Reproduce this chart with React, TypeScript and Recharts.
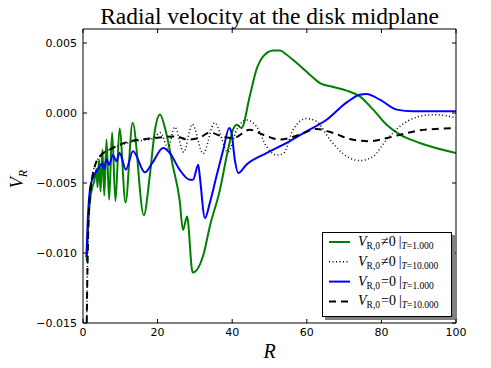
import React from 'react';
import { LineChart, Line, XAxis, YAxis, Legend } from 'recharts';

// ---- data (R, V_R) ----
const greenR = [1.0, 1.5, 2.0, 2.5, 3.0, 3.6, 3.9, 4.3, 4.7, 5.2, 5.7, 6.3, 7.0, 7.8, 8.7, 9.8, 11.4, 13.3, 16.3, 17.9, 19.3, 20.6, 22.2, 24.1, 25.9, 26.8, 27.9, 29.4, 32.2, 34.0, 36.7, 38.9, 40.2, 41.2, 42.5, 44.7, 46.5, 48.3, 51.0, 52.8, 54.6, 57.3, 60.8, 63.5, 67.1, 70.7, 74.2, 77.8, 81.4, 85.0, 90.3, 100];
const greenV = [-0.0106, -0.0075, -0.0060, -0.0053, -0.0049, -0.0040, -0.0053, -0.0033, -0.0056, -0.0026, -0.0059, -0.0019, -0.0062, -0.0014, -0.0063, -0.0011, -0.0064, -0.0007, -0.0073, -0.0045, -0.0012, -0.0001, -0.0013, -0.0038, -0.0062, -0.00835, -0.0074, -0.0114, -0.0102, -0.0081, -0.0055, -0.0026, -0.0012, -0.00084, -0.00107, 0.00119, 0.0031, 0.00404, 0.00447, 0.00447, 0.00416, 0.00357, 0.00274, 0.00214, 0.00186, 0.0016, 0.00119, 0.00024, -0.00084, -0.00155, -0.00214, -0.00286];

const dottedR = [1.0, 1.2, 1.5, 2.0, 2.7, 4.5, 8.0, 12.5, 18.8, 20.8, 22.8, 24.6, 27.0, 29.3, 32.2, 35.3, 38.9, 41.2, 43.8, 46.5, 49.2, 51.9, 53.7, 56.3, 59.9, 62.6, 66.2, 70.7, 74.2, 77.8, 81.4, 85.0, 89.4, 93.9, 97.5, 100];
const dottedV = [-0.0150, -0.0110, -0.0075, -0.0055, -0.0042, -0.0031, -0.0025, -0.0021, -0.0018, -0.0014, -0.0025, -0.0010, -0.0028, -0.0008, -0.0029, -0.0007, -0.0028, -0.0012, -0.0005, -0.00095, -0.0024, -0.0030, -0.0029, -0.0012, -0.0004, -0.0006, -0.0019, -0.0031, -0.0034, -0.0031, -0.0019, -0.00095, -0.0003, -0.00012, -0.0002, -0.00036];

const blueR = [0.9, 1.3, 1.8, 2.4, 3.1, 4.5, 5.2, 5.6, 6.3, 7.0, 8.0, 9.0, 9.8, 11.5, 13.4, 16.6, 18.5, 21.5, 23.3, 25.9, 28.6, 29.5, 30.9, 31.3, 32.7, 34.0, 35.8, 37.6, 39.2, 39.8, 40.7, 41.6, 43.8, 49.2, 54.6, 59.9, 65.3, 70.7, 74.2, 76.0, 79.6, 84.1, 88.5, 100];
const blueV = [-0.0103, -0.0075, -0.0056, -0.0048, -0.0044, -0.0038, -0.0036, -0.0040, -0.0033, -0.0037, -0.0030, -0.00345, -0.00285, -0.00405, -0.00274, -0.00424, -0.0036, -0.0025, -0.00286, -0.00405, -0.00476, -0.00476, -0.00369, -0.0045, -0.0075, -0.00643, -0.0045, -0.00262, -0.00107, -0.0014, -0.00333, -0.00429, -0.00369, -0.00286, -0.00214, -0.00131, -0.00048, 0.00076, 0.00131, 0.00136, 0.00095, 0.00024, 0.00012, 0.00012];

const dashedR = [1.0, 1.2, 1.5, 2.0, 2.7, 4.5, 8.0, 11.6, 18.8, 25.0, 28.0, 31.3, 34.0, 37.6, 40.2, 44.7, 48.3, 52.8, 58.1, 62.6, 67.1, 71.6, 76.9, 81.4, 85.0, 90.3, 100];
const dashedV = [-0.0150, -0.0110, -0.0076, -0.0056, -0.0043, -0.0031, -0.0025, -0.0021, -0.0018, -0.00167, -0.0019, -0.00175, -0.0014, -0.0017, -0.0018, -0.0012, -0.00155, -0.0019, -0.00155, -0.00114, -0.00143, -0.00186, -0.00202, -0.00179, -0.00155, -0.00124, -0.00107];

const xTicks = [0, 20, 40, 60, 80, 100];
const yTicks = [-0.015, -0.01, -0.005, 0, 0.005];

const zip = (rs: number[], vs: number[]) => rs.map((r, i) => ({ r, v: vs[i] }));

const series = [
  { key: 'g1', data: zip(greenR, greenV), color: '#008000', width: 2, dash: undefined as string | undefined, rel: '≠', t: '1.000' },
  { key: 'k10', data: zip(dottedR, dottedV), color: '#000000', width: 1.5, dash: '1 2.5', rel: '≠', t: '10.000' },
  { key: 'b1', data: zip(blueR, blueV), color: '#0000ff', width: 2, dash: undefined as string | undefined, rel: '=', t: '1.000' },
  { key: 'k10d', data: zip(dashedR, dashedV), color: '#000000', width: 2, dash: '7 5', rel: '=', t: '10.000' },
];

const tickFont = { fontFamily: 'DejaVu Sans', fontSize: 11, fill: '#000' };
const fmtY = (v: number) => (v < 0 ? '\u2212' + Math.abs(v).toFixed(3) : v.toFixed(3));

const BottomTick = (p: any) => (
  <g>
    <line x1={p.x} x2={p.x} y1={p.y} y2={p.y - 4} stroke="#000" />
    <text x={p.x} y={p.y + 13} textAnchor="middle" {...tickFont}>{p.payload.value}</text>
  </g>
);
const TopTick = (p: any) => (
  <line x1={p.x} x2={p.x} y1={p.y} y2={p.y + 4} stroke="#000" />
);
const LeftTick = (p: any) => (
  <g>
    <line x1={p.x} x2={p.x + 4} y1={p.y} y2={p.y} stroke="#000" />
    <text x={p.x - 6} y={p.y + 4} textAnchor="end" {...tickFont}>{fmtY(p.payload.value)}</text>
  </g>
);
const RightTick = (p: any) => (
  <line x1={p.x} x2={p.x - 4} y1={p.y} y2={p.y} stroke="#000" />
);

const renderLegend = () => (
  <div style={{ width: 130, height: 85 }}>
    <svg width={134} height={89} style={{ overflow: 'visible', display: 'block' }}>
      <rect x={3} y={3} width={130} height={85} fill="#808080" />
      <rect x={0.5} y={0.5} width={129} height={84} fill="#fff" stroke="#000" />
      {series.map((s, i) => {
        const cy = 10 + i * 19.8;
        return (
          <g key={s.key}>
            <line x1={7} x2={28} y1={cy} y2={cy} stroke={s.color} strokeWidth={s.width} strokeDasharray={s.dash} />
            <text x={36} y={cy + 4} fontFamily="Liberation Serif" fontSize={14} fill="#000">
              <tspan fontStyle="italic">V</tspan>
              <tspan fontSize={9.5} dy={3}>R,0</tspan>
              <tspan dy={-3} dx={1}>{s.rel}0</tspan>
              <tspan dx={3}>|</tspan>
              <tspan fontSize={9.5} dy={3} fontStyle="italic">T</tspan>
              <tspan fontSize={9.5}>={s.t}</tspan>
            </text>
          </g>
        );
      })}
    </svg>
  </div>
);

export default function App() {
  return (
    <div style={{ position: 'absolute', left: 0, top: 0, width: 491, height: 368, background: '#fff' }}>
      <LineChart width={491} height={368} margin={{ top: 28, right: 34, bottom: 0, left: 0 }}>
        <XAxis xAxisId="b" dataKey="r" type="number" domain={[0, 100]} ticks={xTicks} allowDataOverflow
          orientation="bottom" height={45} tickSize={0} tickMargin={0} tick={BottomTick} axisLine={{ stroke: '#000' }} />
        <XAxis xAxisId="t" dataKey="r" type="number" domain={[0, 100]} ticks={xTicks} allowDataOverflow
          orientation="top" height={1} tickSize={0} tickMargin={0} tick={TopTick} axisLine={{ stroke: '#000' }} />
        <YAxis yAxisId="l" dataKey="v" type="number" domain={[-0.015, 0.006]} ticks={yTicks} allowDataOverflow
          orientation="left" width={83} tickSize={0} tickMargin={0} tick={LeftTick} axisLine={{ stroke: '#000' }} />
        <YAxis yAxisId="r" dataKey="v" type="number" domain={[-0.015, 0.006]} ticks={yTicks} allowDataOverflow
          orientation="right" width={1} tickSize={0} tickMargin={0} tick={RightTick} axisLine={{ stroke: '#000' }} />
        {series.map((s) => (
          <Line key={s.key} xAxisId="b" yAxisId="l" data={s.data} dataKey="v" type="monotone"
            stroke={s.color} strokeWidth={s.width} strokeDasharray={s.dash} dot={false}
            isAnimationActive={false} />
        ))}
        <Line key="frame" xAxisId="t" yAxisId="r" data={series[0].data} dataKey="v" type="monotone"
          stroke="none" strokeOpacity={0} dot={false} activeDot={false} legendType="none" isAnimationActive={false} />
        <Legend layout="horizontal" verticalAlign="middle" align="center" content={renderLegend}
          wrapperStyle={{ left: 322, top: 232, width: 130, height: 85 }} />
      </LineChart>
      <svg width={491} height={368} style={{ position: 'absolute', left: 0, top: 0, pointerEvents: 'none' }}>
        <text x={269.5} y={24} textAnchor="middle" fontFamily="Liberation Serif" fontSize={23.5}>
          Radial velocity at the disk midplane
        </text>
        <text x={269.5} y={358} textAnchor="middle" fontFamily="Liberation Serif" fontStyle="italic" fontSize={20}>R</text>
        <text transform="translate(23,179) rotate(-90)" textAnchor="middle" fontFamily="Liberation Serif">
          <tspan fontStyle="italic" fontSize={18}>V</tspan>
          <tspan fontStyle="italic" fontSize={12} dy={4}>R</tspan>
        </text>
      </svg>
    </div>
  );
}
